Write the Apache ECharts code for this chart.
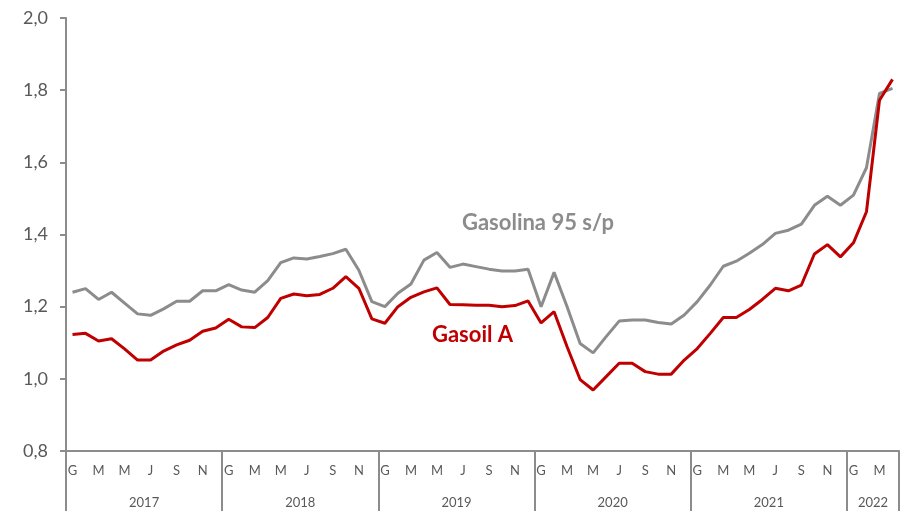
<!DOCTYPE html>
<html>
<head>
<meta charset="utf-8">
<script src="https://cdn.jsdelivr.net/npm/echarts@6/dist/echarts.min.js"></script>
<style>
  html, body { margin: 0; padding: 0; background: #fff; }
  #chart { width: 908px; height: 511px; }
</style>
</head>
<body>
<div id="chart"></div>
<script>
const years = ['2017', '2018', '2019', '2020', '2021', '2022']
const monthLetters = ['G', 'F', 'M', 'A', 'M', 'J', 'J', 'A', 'S', 'O', 'N', 'D']
const monthsIn2022 = 4

// monthly prices, Jan 2017 .. Apr 2022
const gasolina = [
  1.24, 1.25, 1.22, 1.24, 1.21, 1.18, 1.176, 1.194, 1.215, 1.215, 1.244, 1.244,
  1.261, 1.246, 1.24, 1.272, 1.322, 1.335, 1.332, 1.339, 1.347, 1.359, 1.301, 1.214,
  1.2, 1.237, 1.263, 1.329, 1.35, 1.309, 1.318, 1.311, 1.304, 1.299, 1.299, 1.304,
  1.2, 1.295, 1.2, 1.098, 1.072, 1.117, 1.16, 1.163, 1.163, 1.156, 1.152, 1.177,
  1.214, 1.26, 1.312, 1.326, 1.348, 1.372, 1.403, 1.412, 1.429, 1.481, 1.506, 1.481,
  1.509, 1.585, 1.791, 1.805
]
const gasoil = [
  1.123, 1.126, 1.105, 1.111, 1.083, 1.052, 1.052, 1.077, 1.094, 1.107, 1.132, 1.141,
  1.165, 1.144, 1.142, 1.17, 1.223, 1.235, 1.23, 1.234, 1.251, 1.283, 1.251, 1.166,
  1.154, 1.2, 1.226, 1.241, 1.252, 1.206, 1.205, 1.204, 1.204, 1.2, 1.203, 1.216,
  1.155, 1.186, 1.089, 0.998, 0.969, 1.006, 1.043, 1.043, 1.02, 1.013, 1.013, 1.052,
  1.084, 1.126, 1.17, 1.17, 1.192, 1.22, 1.251, 1.244, 1.26, 1.346, 1.372, 1.338,
  1.377, 1.463, 1.772, 1.83
]

const yTicks = { min: 0.8, max: 2.0, step: 0.2 }

const categories = []
years.forEach((y, yi) => {
  const n = yi === years.length - 1 ? monthsIn2022 : 12
  for (let m = 0; m < n; m++) categories.push(y + '-' + (m + 1))
})
const total = categories.length
// year boundaries and centres, in month units
const yearEdges = years.map((_, i) => i * 12).concat([total - 0.02])
const yearCentres = years.map((_, i) => (i * 12 + Math.min((i + 1) * 12, total)) / 2)

const AXIS_COLOR = '#8c8c8c'
const LABEL_COLOR = '#595959'
const GRAY = '#8c8c8c'
const RED = '#c00000'
const FONT = 'Lato, "Noto Sans", sans-serif'

const chart = echarts.init(document.getElementById('chart'), null, { renderer: 'canvas' })

chart.setOption({
  animation: false,
  backgroundColor: '#fff',
  grid: { left: 66, right: 9, top: 18, bottom: 60 },
  xAxis: [
    {
      type: 'category',
      data: categories,
      boundaryGap: true,
      position: 'bottom',
      axisLine: { show: true, lineStyle: { color: AXIS_COLOR, width: 2 } },
      axisTick: { show: false },
      axisLabel: {
        interval: 1,
        margin: 13,
        color: LABEL_COLOR,
        fontFamily: FONT,
        fontSize: 13,
        formatter: (v, i) => monthLetters[i % 12]
      }
    },
    {
      type: 'value',
      min: 0,
      max: total,
      position: 'bottom',
      axisLine: { show: false },
      splitLine: { show: false },
      axisTick: {
        show: true,
        customValues: yearEdges,
        length: 62,
        lineStyle: { color: AXIS_COLOR, width: 2 }
      },
      axisLabel: {
        customValues: yearCentres,
        margin: 45,
        color: LABEL_COLOR,
        fontFamily: FONT,
        fontSize: 13,
        formatter: (v) => years[yearCentres.indexOf(v)] || ''
      }
    }
  ],
  yAxis: {
    type: 'value',
    min: yTicks.min,
    max: yTicks.max,
    interval: yTicks.step,
    axisLine: { show: true, lineStyle: { color: AXIS_COLOR, width: 2 } },
    axisTick: { show: true, length: 6, lineStyle: { color: AXIS_COLOR, width: 2 } },
    splitLine: { show: false },
    axisLabel: {
      margin: 18,
      color: LABEL_COLOR,
      fontFamily: FONT,
      fontSize: 18,
      formatter: (v) => v.toFixed(1).replace('.', ',')
    }
  },
  series: [
    {
      name: 'Gasolina 95 s/p',
      type: 'line',
      data: gasolina,
      showSymbol: false,
      lineStyle: { color: GRAY, width: 3 },
      itemStyle: { color: GRAY }
    },
    {
      name: 'Gasoil A',
      type: 'line',
      data: gasoil,
      showSymbol: false,
      lineStyle: { color: RED, width: 3 },
      itemStyle: { color: RED }
    }
  ],
  graphic: [
    {
      type: 'text',
      left: 462,
      top: 212,
      style: { text: 'Gasolina 95 s/p', fill: GRAY, font: 'bold 22px ' + FONT }
    },
    {
      type: 'text',
      left: 432,
      top: 324,
      style: { text: 'Gasoil A', fill: RED, font: 'bold 22px ' + FONT }
    }
  ]
})
</script>
</body>
</html>
